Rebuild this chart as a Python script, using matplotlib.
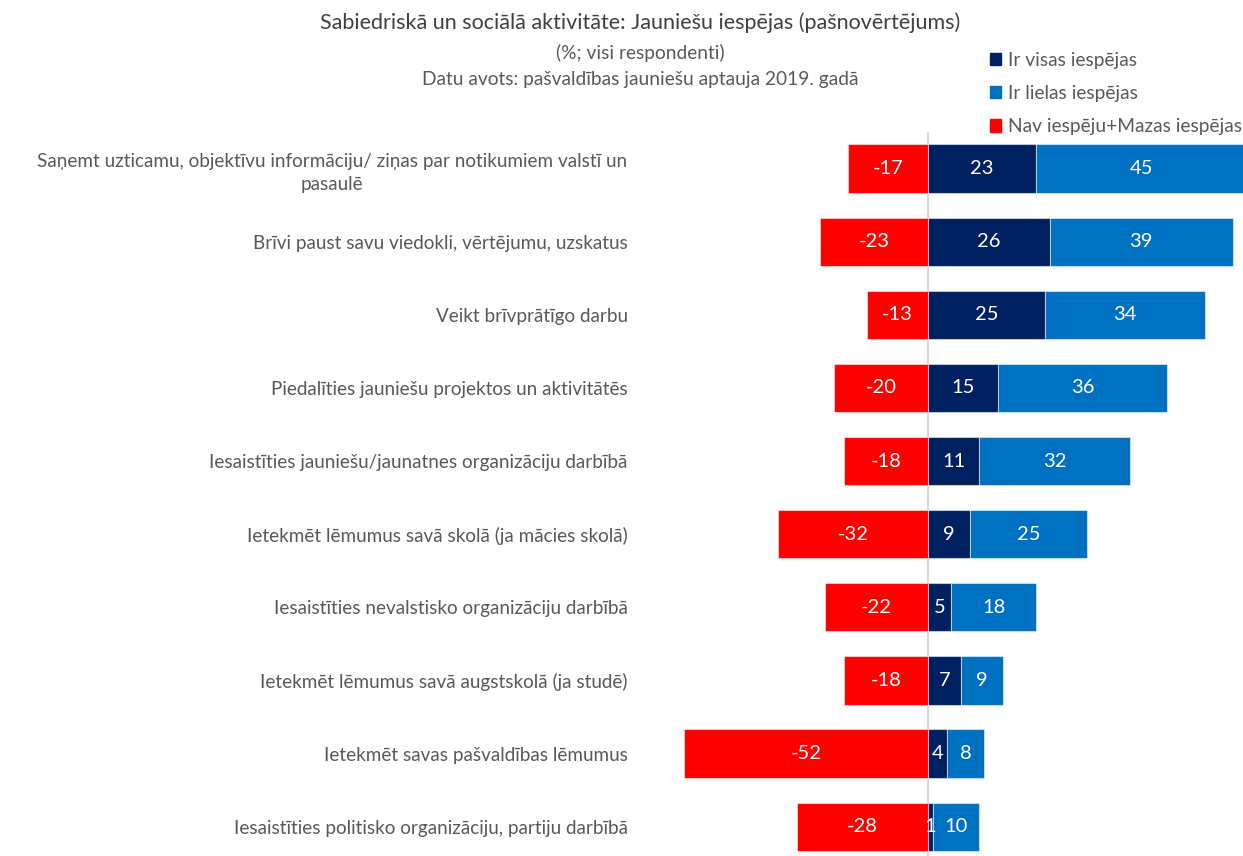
import numpy as np
import matplotlib
matplotlib.use("Agg")
import matplotlib.pyplot as plt

plt.rcParams["font.family"] = ["Lato", "DejaVu Sans"]

NAVY, BLUE, RED = "#002060", "#0070C0", "#FF0000"
GREY = "#595959"

labels = [
    "Saņemt uzticamu, objektīvu informāciju/ ziņas par notikumiem valstī un\npasaulē",
    "Brīvi paust savu viedokli, vērtējumu, uzskatus",
    "Veikt brīvprātīgo darbu",
    "Piedalīties jauniešu projektos un aktivitātēs",
    "Iesaistīties jauniešu/jaunatnes organizāciju darbībā",
    "Ietekmēt lēmumus savā skolā (ja mācies skolā)",
    "Iesaistīties nevalstisko organizāciju darbībā",
    "Ietekmēt lēmumus savā augstskolā (ja studē)",
    "Ietekmēt savas pašvaldības lēmumus",
    "Iesaistīties politisko organizāciju, partiju darbībā",
]
visas = [23, 26, 25, 15, 11, 9, 5, 7, 4, 1]
lielas = [45, 39, 34, 36, 32, 25, 18, 9, 8, 10]
nav = [-17, -23, -13, -20, -18, -32, -22, -18, -52, -28]

series_names = ["Ir visas iespējas", "Ir lielas iespējas", "Nav iespēju+Mazas iespējas"]

W, H = 1243, 856
fig = plt.figure(figsize=(W / 100, H / 100), dpi=100)
ax = fig.add_axes([640 / W, 0, (W - 640) / W, (856 - 132) / H])

y = np.arange(len(labels))
visas = np.array(visas); lielas = np.array(lielas); nav = np.array(nav)
h = 0.66
edge = dict(edgecolor="#ffffff80", linewidth=0.8)
b_nav = ax.barh(y, nav, height=h, color=RED, **edge)
b_vis = ax.barh(y, visas, height=h, color=NAVY, **edge)
b_lie = ax.barh(y, lielas, left=visas, height=h, color=BLUE, **edge)

for bars in (b_nav, b_vis, b_lie):
    for r in bars:
        v = r.get_width()
        cx = r.get_x() + v / 2
        ax.text(cx, r.get_y() + r.get_height() / 2, f"{v:.0f}", ha="center", va="center",
                color="white", fontsize=14.5)

ax.axvline(0, color="#d9d9d9", lw=1.5, zorder=0)
ax.set_xlim(-61.4, 67.2)
ax.set_ylim(9.4, -0.5)
ax.set_xticks([])
ax.set_yticks(y)
ax.set_yticklabels(labels, fontsize=13.6, color=GREY, multialignment="center",
                   linespacing=1.45)
ax.tick_params(axis="y", length=0, pad=9)
for s in ax.spines.values():
    s.set_visible(False)

fig.text(640 / W, 1 - 23 / H, "Sabiedriskā un sociālā aktivitāte: Jauniešu iespējas (pašnovērtējums)",
         ha="center", va="center", fontsize=15.5, color="#404040")
fig.text(640 / W, 1 - 53 / H, "(%; visi respondenti)", ha="center", va="center",
         fontsize=13.8, color=GREY)
fig.text(640 / W, 1 - 79 / H, "Datu avots: pašvaldības jauniešu aptauja 2019. gadā",
         ha="center", va="center", fontsize=13.8, color=GREY)

handles = [plt.Rectangle((0, 0), 1, 1, color=c) for c in (NAVY, BLUE, RED)]
fig.legend(handles, series_names, loc="upper left", bbox_to_anchor=(982 / W, 1 - 44 / H),
           frameon=False, fontsize=13.8, labelcolor=GREY, handlelength=0.6, handleheight=0.6,
           handletextpad=0.35, labelspacing=0.85, borderaxespad=0)

fig.savefig("out.png", dpi=100)
